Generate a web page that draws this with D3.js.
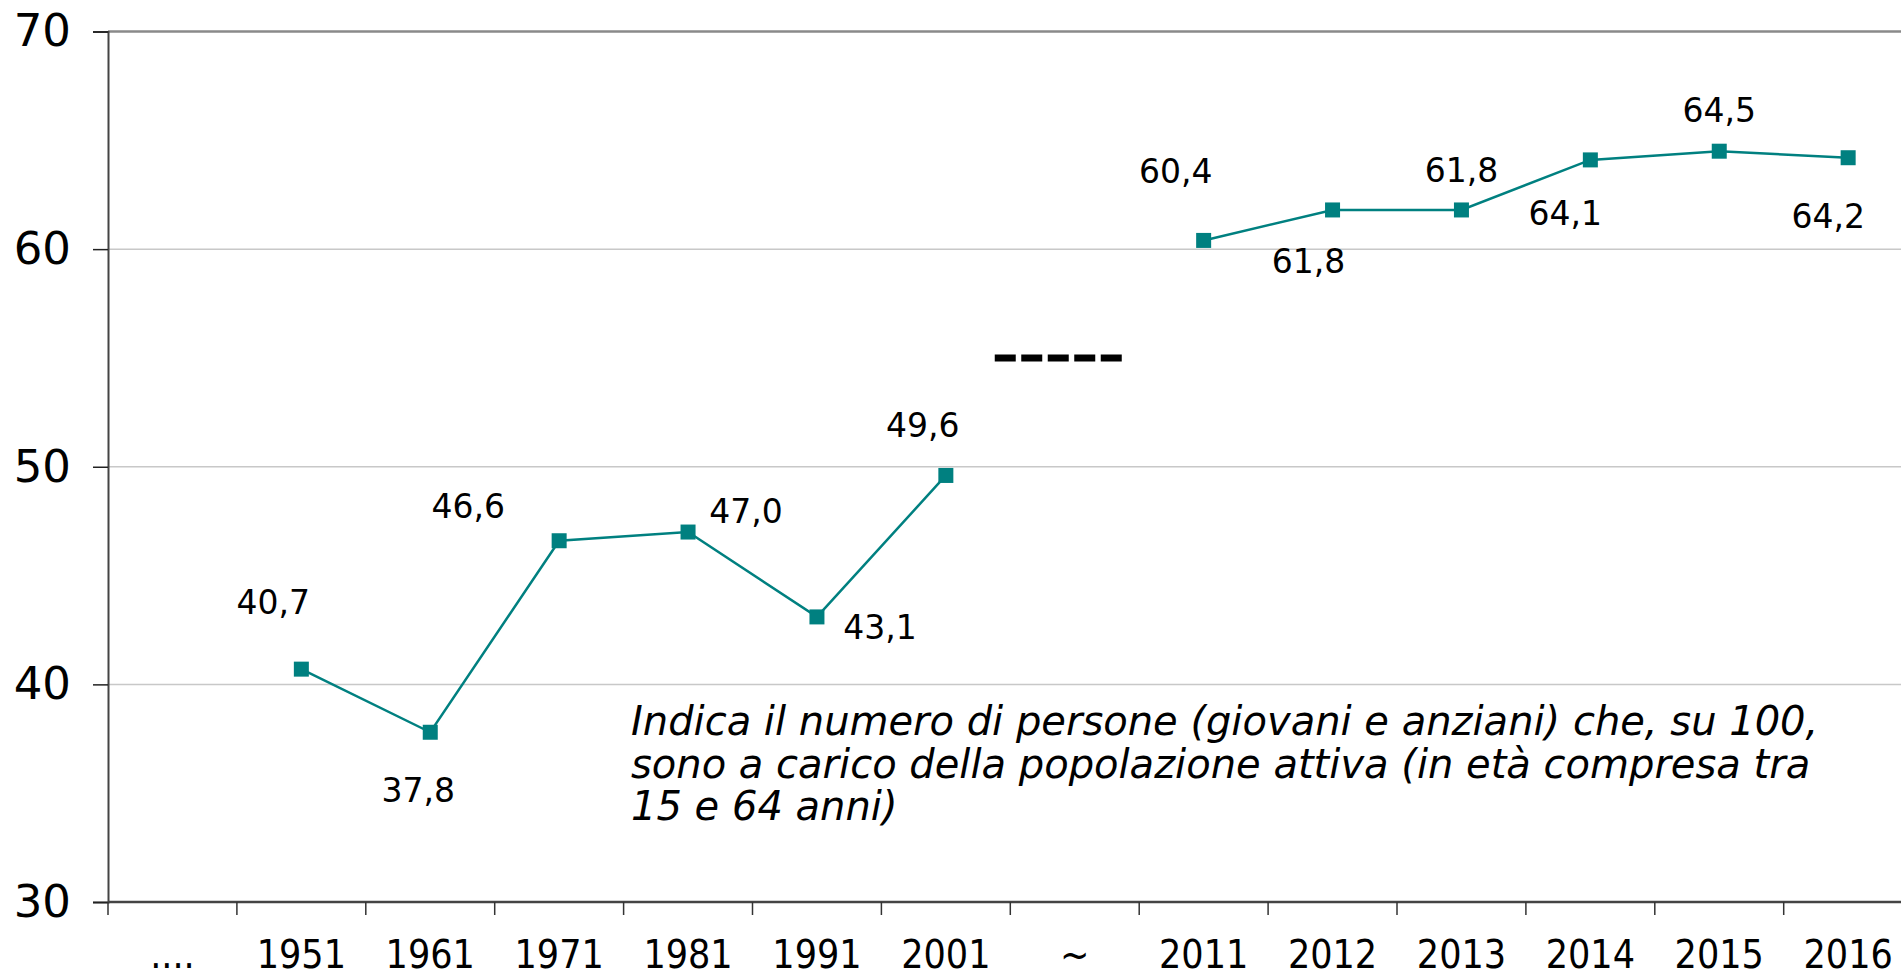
<!DOCTYPE html>
<html>
<head>
<meta charset="utf-8">
<script src="https://cdn.jsdelivr.net/npm/d3@7"></script>
<style>
  body { margin: 0; background: #fff; }
  svg { display: block; }
</style>
</head>
<body>
<svg width="1901" height="979"></svg>
<script>
const svg = d3.select("svg");

const largura = parseFloat(svg.attr('width'));
const altura = parseFloat(svg.attr('height'));

// dati
const categorie = ['....', '1951', '1961', '1971', '1981', '1991', '2001', '~',
                   '2011', '2012', '2013', '2014', '2015', '2016'];
const anni = ['1951', '1961', '1971', '1981', '1991', '2001',
              '2011', '2012', '2013', '2014', '2015', '2016'];
const valori = [40.7, 37.8, 46.6, 47.0, 43.1, 49.6,
                60.4, 61.8, 61.8, 64.1, 64.5, 64.2];
const tickY = [30, 40, 50, 60, 70];
const valoreInterruzione = 55;
const nota = ['Indica il numero di persone (giovani e anziani) che, su 100,',
              'sono a carico della popolazione attiva (in età compresa tra',
              '15 e 64 anni)'];

// spostamento delle etichette rispetto al punto (px)
const spostEtichette = [[-28, -67], [-12, 58], [-91, -35], [58, -21], [63, 10], [-23, -50],
                        [-28, -69], [-24, 51], [0, -40], [-25, 53], [0, -41], [-20, 58]];

const margSx = 108;
const larghCat = 128.9;
const yTop = 31.5;
const yBase = 902;
const colore = '#008080';

const x = d3.scaleBand()
    .domain(categorie)
    .range([margSx, margSx + larghCat * categorie.length])
    .padding(0);

const y = d3.scaleLinear()
    .domain([30, 70])
    .range([yBase, yTop]);

const grafico = svg.append('g');

// griglia
grafico.append('g')
    .selectAll('line')
    .data(tickY.filter(d => d > 30 && d < 70))
    .join('line')
        .attr('x1', margSx)
        .attr('x2', largura)
        .attr('y1', d => y(d))
        .attr('y2', d => y(d))
        .attr('stroke', '#c8c8c8')
        .attr('stroke-width', 1.5);

// bordo superiore
grafico.append('line')
    .attr('x1', margSx)
    .attr('x2', largura)
    .attr('y1', y(70))
    .attr('y2', y(70))
    .attr('stroke', '#8a8a8a')
    .attr('stroke-width', 2.5);

// asse y
const assey = grafico.append('g')
    .attr('transform', `translate(${margSx},0)`)
    .call(d3.axisLeft(y).tickValues(tickY).tickSize(15).tickPadding(22).tickFormat(d3.format('d')));
assey.select('.domain').attr('stroke', '#444').attr('stroke-width', 2);
assey.selectAll('.tick line').attr('stroke', '#222').attr('stroke-width', 1.5);
assey.selectAll('.tick text')
    .attr('font-family', 'DejaVu Sans')
    .attr('font-size', 45)
    .attr('fill', '#000');

// asse x
const assex = grafico.append('g')
    .attr('transform', `translate(0,${yBase})`)
    .call(d3.axisBottom(x).tickSize(0).tickPadding(38));
assex.select('.domain').remove();
assex.append('line')
    .attr('x1', margSx)
    .attr('x2', largura)
    .attr('stroke', '#444')
    .attr('stroke-width', 2.5);
assex.selectAll('.tacche')
    .data(categorie)
    .join('line')
        .attr('class', 'tacche')
        .attr('x1', d => x(d))
        .attr('x2', d => x(d))
        .attr('y1', 0)
        .attr('y2', 13)
        .attr('stroke', '#333')
        .attr('stroke-width', 1.5);
assex.selectAll('.tick text')
    .attr('font-family', 'DejaVu Sans Condensed')
    .attr('font-size', 39)
    .attr('fill', '#000')
    .attr('dy', '0.71em');

// serie
const punti = anni.map((a, i) => ({ anno: a, valore: valori[i], spost: spostEtichette[i] }));
const tratti = [punti.slice(0, 6), punti.slice(6)];

const linea = d3.line()
    .x(d => x(d.anno) + x.bandwidth() / 2)
    .y(d => y(d.valore));

grafico.selectAll('.serie')
    .data(tratti)
    .join('path')
        .attr('class', 'serie')
        .attr('d', linea)
        .attr('fill', 'none')
        .attr('stroke', colore)
        .attr('stroke-width', 2.5);

const lato = 15;
grafico.selectAll('.marcatore')
    .data(punti)
    .join('rect')
        .attr('class', 'marcatore')
        .attr('x', d => x(d.anno) + x.bandwidth() / 2 - lato / 2)
        .attr('y', d => y(d.valore) - lato / 2)
        .attr('width', lato)
        .attr('height', lato)
        .attr('fill', colore);

grafico.selectAll('.etichetta')
    .data(punti)
    .join('text')
        .attr('class', 'etichetta')
        .attr('x', d => x(d.anno) + x.bandwidth() / 2 + d.spost[0])
        .attr('y', d => y(d.valore) + d.spost[1])
        .attr('dy', '0.36em')
        .attr('text-anchor', 'middle')
        .attr('font-family', 'DejaVu Sans')
        .attr('font-size', 33)
        .attr('fill', '#000')
        .text(d => d3.format('.1f')(d.valore).replace('.', ','));

// segno di interruzione
const xInt = x('~') + x.bandwidth() / 2;
grafico.append('line')
    .attr('x1', xInt - 80)
    .attr('x2', xInt + 48)
    .attr('y1', y(valoreInterruzione))
    .attr('y2', y(valoreInterruzione))
    .attr('stroke', '#000')
    .attr('stroke-width', 7)
    .attr('stroke-dasharray', '21,5.5');

// nota
grafico.append('text')
    .attr('x', 631)
    .attr('y', 735)
    .attr('font-family', 'DejaVu Sans')
    .attr('font-style', 'italic')
    .attr('font-size', 40)
    .attr('fill', '#000')
    .selectAll('tspan')
    .data(nota)
    .join('tspan')
        .attr('x', 631)
        .attr('dy', (d, i) => i === 0 ? 0 : 42.5)
        .text(d => d);
</script>
</body>
</html>
